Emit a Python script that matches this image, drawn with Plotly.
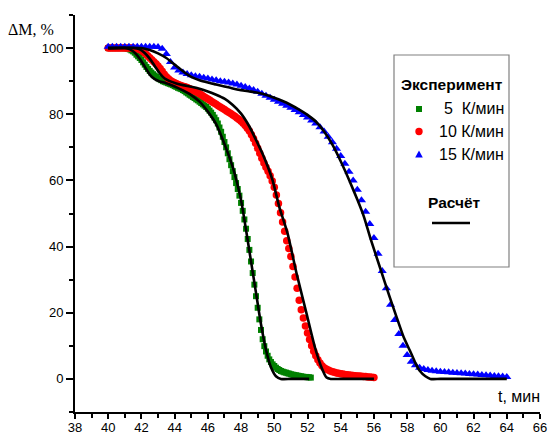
import plotly.graph_objects as go

# ---------------- data ----------------
# experiment, 5 K/min : samples every 0.1 min starting at 40.0
t5_start, t5_step = 40.0, 0.1
m5 = [100, 100, 100, 100, 100, 100, 100, 100, 100, 100,
      100, 99.9, 99.8, 99.6, 99.3, 99.0, 98.6, 98.0, 97.5, 97.0,
      96.4, 95.7, 95.0, 94.3, 93.7, 93.1, 92.6, 92.1, 91.7, 91.3,
      90.9, 90.6, 90.3, 90.0, 89.8, 89.6, 89.4, 89.2, 89.0, 88.8,
      88.5, 88.3, 88.0, 87.8, 87.6, 87.3, 87.0, 86.6, 86.3, 85.9,
      85.6, 85.2, 84.9, 84.5, 84.2, 83.8, 83.4, 83.0, 82.6, 82.2,
      81.7, 81.1, 80.5, 79.8, 79.0, 78.2, 77.2, 76.0, 74.7, 73.2,
      71.6, 70.0, 68.2, 66.4, 64.6, 62.8, 61.0, 59.2, 57.4, 55.4,
      53.2, 50.8, 48.2, 45.4, 42.3, 39.0, 35.5, 32.0, 28.5, 25.0,
      21.5, 18.0, 14.8, 12.0, 9.9, 8.3, 7.0, 5.9, 5.1, 4.4,
      3.9, 3.4, 3.0, 2.7, 2.4, 2.2, 2.0, 1.9, 1.7, 1.6,
      1.4, 1.3, 1.2, 1.1, 1.0, 0.9, 0.8, 0.7, 0.6, 0.6,
      0.5, 0.5, 0.4]

# experiment, 10 K/min : samples every 0.125 min starting at 40.0
t10_start, t10_step = 40.0, 0.125
m10 = [100, 100, 100, 100, 100, 100, 100, 100,
       100, 100, 100, 100, 100, 99.9, 99.8, 99.6,
       99.3, 98.8, 98.3, 97.7, 97.1, 96.5, 95.9, 95.3,
       94.6, 93.8, 93.0, 92.1, 91.3, 90.7, 90.2, 89.8,
       89.5, 89.2, 88.9, 88.7, 88.5, 88.3, 88.1, 87.8,
       87.5, 87.2, 86.9, 86.6, 86.2, 85.8, 85.4, 85.0,
       84.6, 84.2, 83.8, 83.4, 83.0, 82.6, 82.2, 81.8,
       81.4, 81.0, 80.6, 80.2, 79.8, 79.4, 78.9, 78.4,
       77.9, 77.3, 76.6, 75.8, 74.9, 73.8, 72.6, 71.2,
       69.7, 68.2, 66.7, 65.3, 64.0, 62.8, 61.4, 59.8,
       57.9, 55.6, 53.0, 50.2, 47.4, 44.6, 41.8, 39.4,
       37.0, 34.0, 30.8, 27.4, 23.8, 20.9, 18.4, 16.0,
       13.9, 11.9, 10.0, 8.4, 7.0, 5.8, 4.8, 4.0,
       3.4, 3.0, 2.7, 2.4, 2.2, 2.0, 1.8, 1.7,
       1.55, 1.45, 1.35, 1.25, 1.15, 1.1, 1.0, 0.95,
       0.9, 0.85, 0.8, 0.75, 0.7, 0.6, 0.55, 0.5,
       0.4]

# experiment, 15 K/min : samples every 0.25 min starting at 40.0
t15_start, t15_step = 40.0, 0.25
m15 = [100.4, 100.4, 100.4, 100.4, 100.4, 100.4, 100.4, 100.4,
       100.4, 100.4, 100.4, 100.4, 100.3, 99.8, 98.2, 95.8,
       94.1, 93.2, 92.6, 92.2, 91.8, 91.5, 91.3, 91.0,
       90.8, 90.5, 90.3, 90.0, 89.8, 89.6, 89.3, 89.0,
       88.6, 88.2, 87.8, 87.3, 86.8, 86.2, 85.6, 85.0,
       84.4, 83.8, 83.2, 82.6, 82.0, 81.3, 80.6, 79.8,
       79.0, 78.1, 77.2, 76.1, 74.8, 73.2, 71.5, 69.6,
       67.4, 65.0, 62.6, 60.0, 57.2, 54.0, 50.5, 46.8,
       42.6, 37.8, 32.6, 27.4, 22.4, 17.8, 13.6, 10.0,
       7.2, 5.2, 4.1, 3.4, 3.0, 2.7, 2.5, 2.3,
       2.2, 2.1, 2.0, 1.9, 1.8, 1.7, 1.6, 1.5,
       1.4, 1.3, 1.2, 1.1, 1.0, 0.9, 0.8, 0.7,
       0.6]

# calculated curves
c5_t = [40.0, 41.0, 41.3, 41.6, 41.9, 42.2, 42.5, 42.8, 43.1, 43.5, 44.0, 44.5,
        45.0, 45.5, 46.0, 46.5, 47.0, 47.5, 48.0, 48.3, 48.6, 48.9, 49.2, 49.5,
        49.8, 50.1, 50.4, 51.0, 52.1]
c5_v = [100, 100, 99.6, 98.6, 96.8, 94.4, 92.0, 90.6, 89.9, 89.4, 88.4, 87.2,
        85.8, 83.8, 80.8, 77.0, 71.0, 64.0, 54.0, 45.0, 35.5, 26.0, 16.5, 8.8,
        3.5, 0.8, 0, 0, 0]

c10_t = [40.0, 41.5, 41.9, 42.2, 42.5, 42.8, 43.1, 43.4, 43.7, 44.1, 44.5, 45.0,
         45.5, 46.0, 46.5, 47.0, 47.5, 48.0, 48.5, 49.0, 49.3, 49.6, 49.9, 50.3,
         50.8, 51.35, 51.95, 52.45, 52.85, 53.15, 53.4, 54.0, 56.0]
c10_v = [100, 100, 99.6, 98.5, 96.8, 94.6, 92.4, 90.8, 90.0, 89.3, 88.8, 88.3,
         87.7, 86.9, 85.9, 84.7, 82.8, 80.2, 76.3, 71.2, 68.0, 64.3, 60.0, 52.0,
         44.0, 31.7, 19.6, 9.5, 3.4, 0.4, 0, 0, 0]

c15_t = [40.0, 42.0, 42.5, 43.0, 43.5, 44.0, 44.5, 45.0, 45.5, 46.0, 46.5, 47.0,
         47.5, 48.0, 48.5, 49.0, 49.5, 50.0, 50.5, 51.0, 51.5, 52.0, 52.5, 53.0,
         53.5, 54.0, 54.5, 55.0, 55.4, 55.8, 56.37, 56.9, 57.37, 57.8, 58.17,
         58.5, 58.77, 59.1, 59.4, 60.0, 64.0]
c15_v = [100, 100, 99.4, 98.4, 97.0, 95.0, 93.0, 91.3, 90.3, 89.6, 89.0, 88.4,
         87.8, 87.3, 86.9, 86.5, 85.9, 85.0, 84.0, 82.8, 81.4, 79.8, 77.8, 74.8,
         70.8, 65.8, 60.2, 54.2, 49.0, 42.3, 33.6, 25.5, 18.6, 12.5, 8.5,
         4.8, 2.4, 0.8, 0, 0, 0]

x_ticks = [38, 40, 42, 44, 46, 48, 50, 52, 54, 56, 58, 60, 62, 64, 66]
y_ticks = [0, 20, 40, 60, 80, 100]
y_minor = [-10, 10, 30, 50, 70, 90, 110]

legend_title = "Эксперимент"
legend_rates = ["5\u00a0\u00a0К/мин", "10 К/мин", "15 К/мин"]
legend_calc = "Расчёт"

# ---------------- figure ----------------
def times(start, step, vals):
    return [round(start + step * i, 4) for i in range(len(vals))]

GREEN, RED, BLUE = "#008000", "#ff0000", "#0000ff"

fig = go.Figure()
fig.add_trace(go.Scatter(x=times(t5_start, t5_step, m5), y=m5, mode="markers",
                         marker=dict(symbol="square", size=6, color=GREEN, line=dict(width=0))))
fig.add_trace(go.Scatter(x=times(t10_start, t10_step, m10), y=m10, mode="markers",
                         marker=dict(symbol="circle", size=7.5, color=RED, line=dict(width=0))))
fig.add_trace(go.Scatter(x=times(t15_start, t15_step, m15), y=m15, mode="markers",
                         marker=dict(symbol="triangle-up", size=8, color=BLUE, line=dict(width=0))))
for ct, cv in [(c5_t, c5_v), (c10_t, c10_v), (c15_t, c15_v)]:
    fig.add_trace(go.Scatter(x=ct, y=cv, mode="lines",
                             line=dict(color="black", width=2.6, shape="spline", smoothing=0.6)))

# pixel -> paper helpers for the hand drawn legend box
L, R, T, B = 75, 540, 15, 412
def PX(x):
    return (x - L) / (R - L)
def PY(y):
    return (B - y) / (B - T)

sans = "Liberation Sans, Arial, sans-serif"
serif = "Liberation Serif, Times New Roman, serif"

ann = []
ann.append(dict(x=PX(31), y=PY(29), text="ΔM, %", showarrow=False, xref="paper", yref="paper",
                xanchor="center", yanchor="middle", font=dict(family=serif, size=16, color="black")))
ann.append(dict(x=PX(519), y=PY(396), text="t, мин", showarrow=False, xref="paper", yref="paper",
                xanchor="center", yanchor="middle", font=dict(family=sans, size=16, color="black")))
ann.append(dict(x=PX(452), y=PY(85), text="<b>" + legend_title + "</b>", showarrow=False,
                xref="paper", yref="paper", xanchor="center", yanchor="middle",
                font=dict(family=sans, size=15.5, color="black")))
for i, lab in enumerate(legend_rates):
    ann.append(dict(x=PX(506), y=PY(109 + 22.5 * i), text=lab, showarrow=False,
                    xref="paper", yref="paper", xanchor="right", yanchor="middle",
                    font=dict(family=sans, size=16, color="black")))
ann.append(dict(x=PX(454), y=PY(202), text="<b>" + legend_calc + "</b>", showarrow=False,
                xref="paper", yref="paper", xanchor="center", yanchor="middle",
                font=dict(family=sans, size=15.5, color="black")))

shapes = []
shapes.append(dict(type="rect", xref="paper", yref="paper", x0=PX(394), x1=PX(509),
                   y0=PY(267), y1=PY(55), line=dict(color="#808080", width=1.2),
                   fillcolor="rgba(0,0,0,0)"))
shapes.append(dict(type="rect", xref="paper", yref="paper", x0=PX(416), x1=PX(422),
                   y0=PY(112), y1=PY(106), line=dict(width=0), fillcolor=GREEN))
shapes.append(dict(type="circle", xref="paper", yref="paper", x0=PX(415.3), x1=PX(422.7),
                   y0=PY(135.2), y1=PY(127.8), line=dict(width=0), fillcolor=RED))
tri = "M {:.5f},{:.5f} L {:.5f},{:.5f} L {:.5f},{:.5f} Z".format(
    PX(415.2), PY(157.5), PX(422.8), PY(157.5), PX(419), PY(150.5))
shapes.append(dict(type="path", xref="paper", yref="paper", path=tri,
                   line=dict(width=0), fillcolor=BLUE))
shapes.append(dict(type="line", xref="paper", yref="paper", x0=PX(432), x1=PX(470),
                   y0=PY(223), y1=PY(223), line=dict(color="black", width=2.5)))

fig.update_layout(
    width=549, height=436,
    margin=dict(l=75, r=9, t=15, b=24, pad=0),
    plot_bgcolor="white", paper_bgcolor="white",
    showlegend=False,
    annotations=ann, shapes=shapes,
    xaxis=dict(range=[38, 66], tickmode="array", tickvals=x_ticks, automargin=False,
               ticks="outside", ticklen=5, tickwidth=1.5, tickcolor="black",
               ticklabelstandoff=-3,
               showline=True, linewidth=2, linecolor="black", showgrid=False, zeroline=False,
               tickfont=dict(family=sans, size=13, color="black"),
               minor=dict(dtick=1, tick0=38, ticks="outside", ticklen=4, tickwidth=1.5,
                          tickcolor="black", showgrid=False)),
    yaxis=dict(range=[-10, 110], tickmode="array", tickvals=y_ticks, automargin=False,
               ticks="outside", ticklen=7, tickwidth=1.5, tickcolor="black",
               showline=True, linewidth=2, linecolor="black", showgrid=False, zeroline=False,
               tickfont=dict(family=sans, size=13, color="black"),
               minor=dict(tickmode="array", tickvals=y_minor, ticks="outside", ticklen=4,
                          tickwidth=1.5, tickcolor="black", showgrid=False)),
)

fig.write_html("out.html")
